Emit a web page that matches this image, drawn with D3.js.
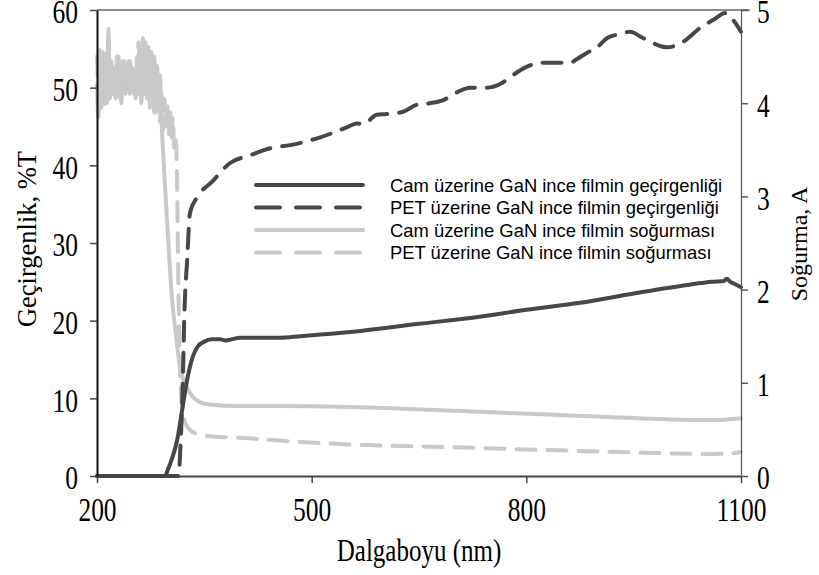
<!DOCTYPE html>
<html>
<head>
<meta charset="utf-8">
<script src="https://cdn.jsdelivr.net/npm/d3@7"></script>
<style>
  body { margin: 0; background: #fff; }
  svg { display: block; }
  .tick text { font-family: "Liberation Serif", "Times New Roman", serif; font-size: 25.5px; fill: #000; }
  .title { font-family: "Liberation Serif", "Times New Roman", serif; fill: #000; }
  .legend text { font-family: "Liberation Sans", Arial, sans-serif; font-size: 18.4px; fill: #000; }
</style>
</head>
<body>
<svg id="chart" width="819" height="575"></svg>
<script>
// Cam üzerine GaN — geçirgenlik (%T)
const camTnm = [200, 290, 295, 299, 305, 312, 319, 326, 334, 341, 350, 360, 372, 380, 386, 400, 456, 484, 549, 650, 735, 800, 875, 950, 1025, 1060, 1076, 1080, 1085, 1092, 1100];
const camT = [0, 0, 0, 0.8, 2.3, 4.6, 8.5, 12.4, 15.4, 16.7, 17.3, 17.6, 17.6, 17.45, 17.55, 17.8, 17.8, 18.0, 18.5, 19.6, 20.5, 21.4, 22.3, 23.5, 24.6, 25.0, 25.1, 25.4, 25.0, 24.7, 24.3];

// PET üzerine GaN — geçirgenlik (%T)
const petTnm = [200, 314, 317, 320, 322, 326, 330, 340, 361, 386, 414, 442, 470, 512, 549, 563, 572, 591, 605, 628, 647, 665, 684, 703, 721, 745, 766, 781, 801, 819, 836, 861, 871, 885, 899, 913, 931, 945, 963, 997, 1019, 1043, 1061, 1078, 1089, 1100];
const petT = [0, 0, 4.6, 12.4, 20.5, 27.8, 33.9, 35.9, 37.9, 40.3, 41.3, 42.2, 42.6, 43.6, 44.9, 45.4, 45.3, 46.5, 46.6, 46.9, 47.8, 48.0, 48.4, 49.4, 50.0, 50.0, 50.6, 51.6, 52.7, 53.2, 53.2, 53.2, 53.7, 54.5, 55.2, 56.4, 56.9, 57.2, 56.4, 55.2, 55.9, 57.7, 58.7, 59.6, 58.7, 57.2];

// Cam üzerine GaN — soğurma (A)
const camAnm = [200, 202, 204, 206, 208, 210, 212, 214, 216, 218, 220, 222, 224, 226, 228, 230, 232, 234, 236, 238, 240, 242, 244, 246, 248, 250, 252, 254, 256, 258, 260, 262, 264, 266, 268, 270, 272, 274, 276, 278, 280, 282, 284, 286, 288, 290,
  293, 299, 305, 309, 316, 326, 334, 354, 400, 456, 735, 921, 1061, 1100];
const camA = [4.2, 3.85, 4.5, 3.95, 4.55, 4.1, 4.35, 4.0, 4.8, 4.05, 4.45, 4.1, 4.3, 4.05, 4.5, 4.15, 4.4, 4.0, 4.45, 4.2, 4.4, 4.15, 4.45, 4.1, 4.4, 4.2, 4.35, 4.05, 4.5, 4.1, 4.6, 4.0, 4.7, 4.1, 4.65, 4.05, 4.6, 3.95, 4.55, 4.1, 4.5, 3.9, 4.4, 3.95, 4.3, 3.85,
  3.39, 2.6, 1.89, 1.6, 1.17, 0.95, 0.85, 0.77, 0.75, 0.75, 0.69, 0.63, 0.60, 0.62];

// PET üzerine GaN — soğurma (A)
const petAnm = [200, 202, 204, 206, 208, 210, 212, 214, 216, 218, 220, 222, 224, 226, 228, 230, 232, 234, 236, 238, 240, 242, 244, 246, 248, 250, 252, 254, 256, 258, 260, 262, 264, 266, 268, 270, 272, 274, 276, 278, 280, 282, 284, 286, 288, 290, 292, 294, 296, 298, 300, 302, 304, 306, 308,
  310, 312, 313, 314, 316, 320, 326, 337, 354, 400, 484, 735, 921, 1061, 1089, 1100];
const petA = [4.5, 4.1, 4.6, 4.2, 4.4, 3.95, 4.55, 4.2, 4.7, 4.3, 4.15, 4.45, 4.1, 4.4, 4.2, 4.5, 4.05, 4.35, 4.15, 4.45, 4.1, 4.35, 4.2, 4.45, 4.15, 4.4, 4.1, 4.35, 4.2, 4.65, 4.15, 4.55, 4.25, 4.6, 4.2, 4.5, 4.1, 4.45, 4.0, 4.4, 3.9, 4.3, 3.85, 4.2, 3.8, 4.1, 3.7, 4.05, 3.75, 4.0, 3.65, 3.95, 3.6, 3.85, 3.5,
  3.6, 3.1, 2.5, 1.9, 1.14, 0.68, 0.53, 0.46, 0.43, 0.41, 0.365, 0.30, 0.26, 0.236, 0.245, 0.26];

const xTicks = [200, 500, 800, 1100];
const leftTicks = [0, 10, 20, 30, 40, 50, 60];
const rightTicks = [0, 1, 2, 3, 4, 5];
const legendLabels = [
  "Cam üzerine GaN ince filmin geçirgenliği",
  "PET üzerine GaN ince filmin geçirgenliği",
  "Cam üzerine GaN ince filmin soğurması",
  "PET üzerine GaN ince filmin soğurması",
];

const dark = "#474747";
const light = "#c9c9c9";
const margin = { top: 10, right: 78, bottom: 99, left: 97 };
const width = 819;
const height = 575;
const stretch = 1.3; // serif labels are taller than they are wide in the original

const svg = d3.select("#chart");
const x = d3.scaleLinear().domain([200, 1100]).range([margin.left, width - margin.right]);
const yL = d3.scaleLinear().domain([0, 60]).range([height - margin.bottom, margin.top]);
const yR = d3.scaleLinear().domain([0, 5]).range([height - margin.bottom, margin.top]);

const series = [
  { nm: camTnm, v: camT, y: yL, color: dark, dash: null },
  { nm: petTnm, v: petT, y: yL, color: dark, dash: "19,12" },
  { nm: camAnm, v: camA, y: yR, color: light, dash: null },
  { nm: petAnm, v: petA, y: yR, color: light, dash: "19,12" },
];

// top border
svg.append("line")
  .attr("x1", margin.left).attr("x2", width - margin.right + 9)
  .attr("y1", margin.top).attr("y2", margin.top)
  .attr("stroke", "#666").attr("stroke-width", 1.5);

// lines, absorbance drawn under transmittance
[3, 2, 1, 0].forEach(function (i) {
  const s = series[i];
  const pts = s.nm.map((d, k) => [d, s.v[k]]);
  const line = d3.line()
    .x((d) => x(d[0]))
    .y((d) => s.y(d[1]))
    .curve(d3.curveMonotoneX);
  svg.append("path")
    .attr("d", line(pts))
    .attr("fill", "none")
    .attr("stroke", s.color)
    .attr("stroke-width", 4)
    .attr("stroke-linejoin", "round")
    .attr("stroke-linecap", "round")
    .attr("stroke-dasharray", s.dash);
});

// axes
const gx = svg.append("g")
  .attr("transform", `translate(0,${height - margin.bottom})`)
  .call(d3.axisBottom(x).tickValues(xTicks).tickSize(7).tickSizeOuter(0).tickFormat(d3.format("d")));
gx.select(".domain").attr("stroke", "#444").attr("stroke-width", 2);
gx.selectAll(".tick line").attr("stroke", "#444").attr("stroke-width", 1.5);
gx.selectAll(".tick text")
  .attr("y", 45 / stretch).attr("dy", 0)
  .attr("transform", `scale(1,${stretch})`);

const gl = svg.append("g")
  .attr("transform", `translate(${margin.left},0)`)
  .call(d3.axisLeft(yL).tickValues(leftTicks).tickSize(7).tickSizeOuter(0).tickPadding(12));
gl.select(".domain").attr("stroke", "#111").attr("stroke-width", 2);
gl.selectAll(".tick line").attr("stroke", "#444").attr("stroke-width", 1.5);
gl.selectAll(".tick text").attr("dy", "0.39em").attr("transform", `scale(1,${stretch})`);

const gr = svg.append("g")
  .attr("transform", `translate(${width - margin.right},0)`)
  .call(d3.axisRight(yR).tickValues(rightTicks).tickSize(7).tickSizeOuter(0).tickPadding(9).tickFormat(d3.format("d")));
gr.select(".domain").attr("stroke", "#555").attr("stroke-width", 1.2);
gr.selectAll(".tick line").attr("stroke", "#555").attr("stroke-width", 1.5);
gr.selectAll(".tick text").attr("dy", "0.39em").attr("transform", `scale(1,${stretch})`);

// titles
svg.append("text").attr("class", "title")
  .attr("transform", `translate(${(margin.left + width - margin.right) / 2},561) scale(1,1.25)`)
  .style("font-size", "25px")
  .attr("text-anchor", "middle").text("Dalgaboyu (nm)");
svg.append("text").attr("class", "title")
  .attr("transform", `translate(36,239) rotate(-90)`)
  .style("font-size", "26.5px")
  .attr("text-anchor", "middle").text("Geçirgenlik, %T");
svg.append("text").attr("class", "title")
  .attr("transform", `translate(807,244) rotate(-90)`)
  .style("font-size", "24px")
  .attr("text-anchor", "middle").text("Soğurma, A");

// legend
const legend = svg.append("g").attr("class", "legend");
legendLabels.forEach(function (label, i) {
  const s = series[i];
  const ly = 185 + i * 22.5;
  legend.append("line")
    .attr("x1", 256).attr("x2", 363).attr("y1", ly).attr("y2", ly)
    .attr("stroke", s.color).attr("stroke-width", 4)
    .attr("stroke-linecap", "round")
    .attr("stroke-dasharray", s.dash ? "24,16" : null);
  legend.append("text")
    .attr("x", 390).attr("y", ly).attr("dy", "0.36em")
    .text(label);
});
</script>
</body>
</html>
